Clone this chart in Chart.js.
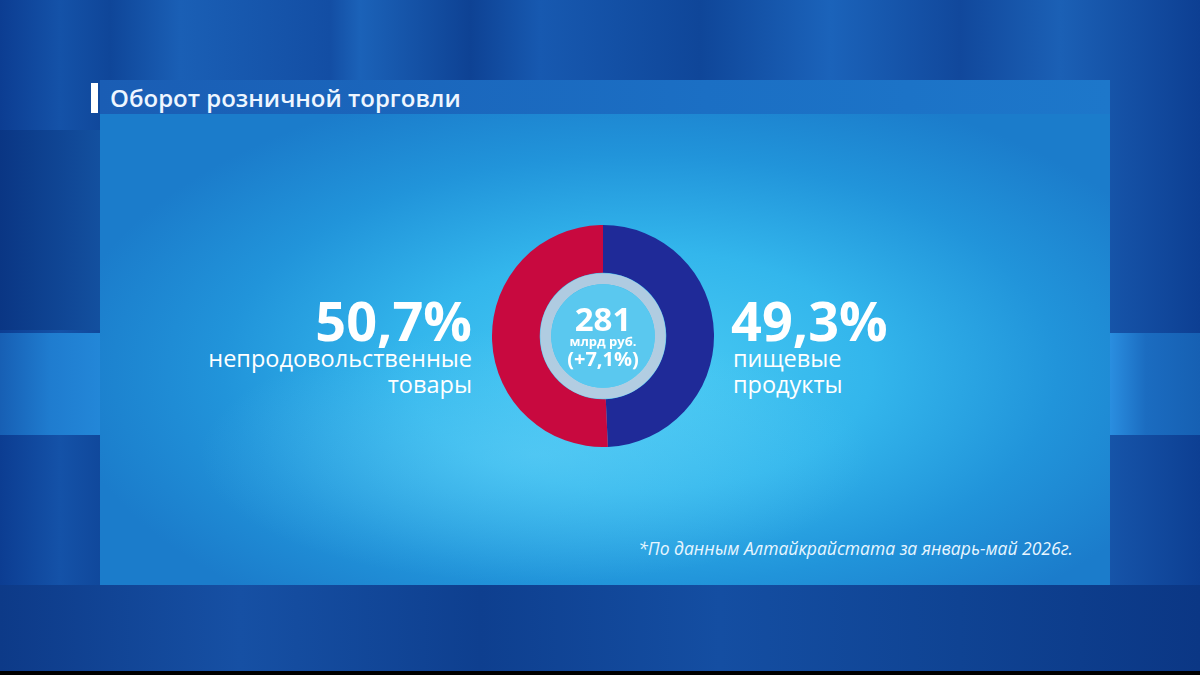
<!DOCTYPE html>
<html><head><meta charset="utf-8">
<script src="https://cdn.jsdelivr.net/npm/chart.js@4"></script>
<style>
html,body{margin:0;padding:0;width:1200px;height:675px;overflow:hidden;font-family:"Open Sans","Noto Sans",sans-serif;background:#000;}
#bg{position:absolute;left:0;top:0;width:1200px;height:671px;
 background:linear-gradient(90deg,#0c3d92 0px,#1452a8 60px,#0f4699 110px,#1a5fb5 180px,#134ea4 330px,#1b62b8 360px,#0e4294 470px,#1759b0 540px,#0f4699 700px,#1b63ba 830px,#11489c 960px,#1b60b5 1060px,#0d3f93 1200px);}
#panel{position:absolute;left:100px;top:80px;width:1010px;height:505px;
 background:radial-gradient(ellipse 580px 300px at 540px 290px,#48caf3 0%,#33b6ec 40%,#2194da 72%,#1b7ccb 100%);}
#band{position:absolute;left:100px;top:80px;width:1010px;height:34px;background:linear-gradient(90deg,#1a5db4,#1b6fc4 60%,#1d77ca);}
#inner{position:absolute;left:115px;top:115px;width:980px;height:470px;
 background:radial-gradient(ellipse 420px 160px at 420px 340px,rgba(110,215,250,0.45),rgba(40,160,230,0.0) 80%);}
#leftside{position:absolute;left:0;top:130px;width:100px;height:200px;background:linear-gradient(90deg,#0a3684,#13509f);}
#rightside{position:absolute;left:1110px;top:333px;width:90px;height:102px;background:linear-gradient(90deg,#2a8ee0,#1b6cc0 40%,#1660b3);}
#lowleft{position:absolute;left:0;top:333px;width:100px;height:102px;background:linear-gradient(90deg,#175fb4,#1f7ccf 50%,#2387d8);}
#bottom{position:absolute;left:0;top:585px;width:1200px;height:86px;background:linear-gradient(90deg,#0d3a88,#1650a4 20%,#0e3f8f 40%,#144ea2 60%,#0f4393 80%,#0b3785);}
#chartbox{position:absolute;left:492px;top:225px;width:222px;height:222px;}
.t{position:absolute;color:#fff;white-space:nowrap;}
#title{left:110px;top:83px;font-size:24px;line-height:30px;font-weight:600;color:#eef6ff;}
#bar{position:absolute;left:91px;top:83px;width:7px;height:30px;background:#fff;}
.big{font-size:54px;font-weight:700;line-height:46px;}
.lab{font-size:23.5px;font-weight:500;line-height:26px;}
#foot{left:560px;width:513px;text-align:right;top:537px;font-size:17.5px;line-height:22px;font-style:italic;font-weight:500;color:#e8f6ff;}
.c{position:absolute;left:553px;width:100px;text-align:center;color:#fff;font-weight:700;}
</style></head>
<body>
<div id="bg"></div>
<div id="leftside"></div>
<div id="lowleft"></div>
<div id="rightside"></div>
<div id="bottom"></div>
<div id="panel"></div>
<div id="inner"></div>
<div id="band"></div>
<div id="bar"></div>
<div class="t" id="title">Оборот розничной торговли</div>
<div id="chartbox"><canvas id="c"></canvas></div>
<div class="t big" id="lv" style="right:728px;top:297px;"></div>
<div class="t lab" id="ll" style="right:728px;top:345px;text-align:right;"></div>
<div class="t big" id="rv" style="left:731px;top:297px;"></div>
<div class="t lab" id="rl" style="left:733px;top:345px;"></div>
<div class="c" style="top:302px;font-size:33px;line-height:33px;">281</div>
<div class="c" style="top:335px;font-size:13px;line-height:13px;">млрд руб.</div>
<div class="c" style="top:348px;font-size:20px;line-height:21px;">(+7,1%)</div>
<div class="t" id="foot">*По данным Алтайкрайстата за январь-май 2026г.</div>
<script>
const categories = ["пищевые продукты", "непродовольственные товары"];
const shares = [49.3, 50.7];
const shareLabels = ["49,3%", "50,7%"];
const colors = ["#1f2a98", "#c8093f"];

document.getElementById('rv').textContent = shareLabels[0];
document.getElementById('rl').innerHTML = "пищевые<br>продукты";
document.getElementById('lv').textContent = shareLabels[1];
document.getElementById('ll').innerHTML = "непродовольственные<br>товары";

const innerRing = {
  id:'innerRing',
  afterDatasetsDraw(chart){
    const arc = chart.getDatasetMeta(0).data[0];
    const ctx = chart.ctx;
    const r = arc.innerRadius;
    ctx.save();
    ctx.beginPath();
    ctx.arc(arc.x, arc.y, r - 6, 0, Math.PI*2);
    ctx.lineWidth = 11;
    ctx.strokeStyle = "rgba(196,206,222,0.85)";
    ctx.stroke();
    ctx.beginPath();
    ctx.arc(arc.x, arc.y, r - 11.5, 0, Math.PI*2);
    ctx.fillStyle = "#5ac8ef";
    ctx.fill();
    ctx.restore();
  }
};

new Chart(document.getElementById('c'), {
  type:'doughnut',
  data:{labels:categories, datasets:[{data:shares, backgroundColor:colors, borderWidth:0}]},
  options:{responsive:true, maintainAspectRatio:false, animation:false, cutout:'57%',
    plugins:{legend:{display:false}, tooltip:{enabled:false}}, layout:{padding:0}},
  plugins:[innerRing]
});
</script>
</body></html>
